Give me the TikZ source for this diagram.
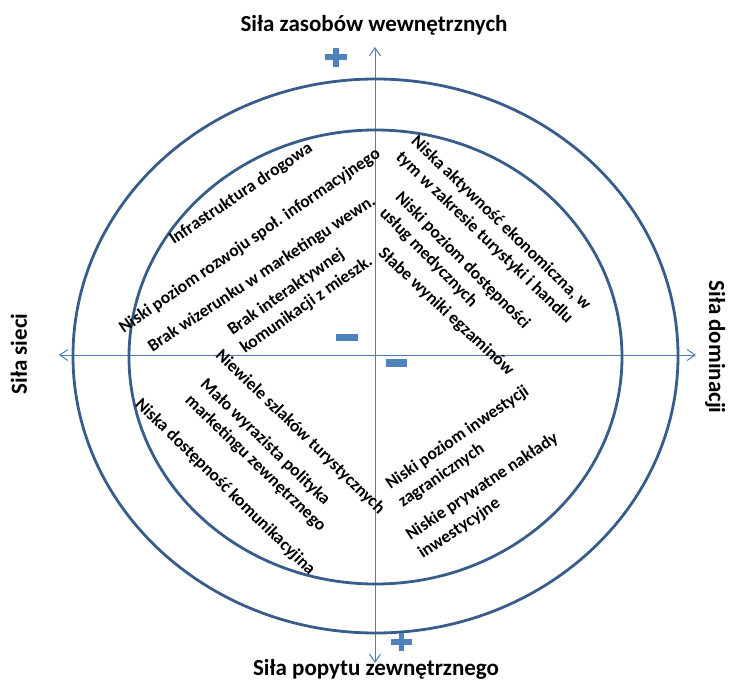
\documentclass[tikz,border=0pt]{standalone}
\usepackage{fontspec}
\setmainfont{Carlito}
\usetikzlibrary{arrows.meta}
\definecolor{ellc}{HTML}{385D8A}
\definecolor{axc}{HTML}{4A7EBB}
\definecolor{signc}{HTML}{4F81BD}
\begin{document}
\begin{tikzpicture}[x=1pt,y=-1pt,
  lbl/.style={font=\bfseries\fontsize{17.5}{22}\selectfont, inner sep=0pt, align=left, text=black},
  ttl/.style={font=\bfseries\fontsize{23}{26}\selectfont, inner sep=0pt, anchor=base, text=black},
  ell/.style={draw=ellc, line width=2.8pt},
  axis/.style={draw=axc, line width=1pt, {Straight Barb[length=8pt,width=11pt]}-{Straight Barb[length=8pt,width=11pt]}},
  sign/.style={fill=signc, draw=none}]
\useasboundingbox (0,0) rectangle (729,680);
% axes
\coordinate (top) at (375,47);
\coordinate (bot) at (375,663);
\coordinate (lft) at (59,355);
\coordinate (rgt) at (696,355);
\draw[axis] (top) -- (bot);
\draw[axis] (lft) -- (rgt);
% ellipses
\draw[ell] (375.5,356) ellipse [x radius=302.5, y radius=277];
\draw[ell] (375.5,357) ellipse [x radius=246.5, y radius=227];
% signs
\fill[sign] (325,54.2) rectangle (347,59.8);
\fill[sign] (333.2,47.5) rectangle (338.8,66.5);
\fill[sign] (391,639.2) rectangle (412,644.8);
\fill[sign] (398.7,633) rectangle (404.3,651);
\fill[sign] (336,334) rectangle (358,341);
\fill[sign] (386,359) rectangle (407,367);
% titles
\node[ttl] (tN) at (374,31) {Siła zasobów wewnętrznych};
\node[ttl] (tS) at (376,675) {Siła popytu zewnętrznego};
\node[ttl, rotate=90] (tW) at (27,354) {Siła sieci};
\node[ttl, rotate=-90] (tE) at (709,347) {Siła dominacji};
% upper-left
\node[lbl, rotate=34] (a1) at (241,194) {Infrastruktura drogowa};
\node[lbl, rotate=34.6] (a2) at (250,241) {Niski poziom rozwoju społ. informacyjnego};
\node[lbl, rotate=33.5] (a3) at (262,274) {Brak wizerunku w marketingu wewn.};
\node[lbl, rotate=35, anchor=west] (a4) at (236,341) {Brak interaktywnej\\komunikacji z mieszk.};
% upper-right
\node[lbl, rotate=-44, anchor=west] (b1) at (406,147) {Niska aktywność ekonomiczna, w\\tym w zakresie turystyki i handlu};
\node[lbl, rotate=-45.5, anchor=west] (b2) at (390,203) {Niski poziom dostępności\\usług medycznych};
\node[lbl, rotate=-43] (b3) at (446,312) {Słabe wyniki egzaminów};
% lower-left
\node[lbl, rotate=-44] (c1) at (300,432) {Niewiele szlaków turystycznych};
\node[lbl, rotate=-44, anchor=west] (c2) at (195,390) {Mało wyrazista polityka\\marketingu zewnętrznego};
\node[lbl, rotate=-44.3] (c3) at (225,487) {Niska dostępność komunikacyjina};
% lower-right
\node[lbl, rotate=34.6, anchor=west] (d1) at (394,495) {Niski poziom inwestycji\\zagranicznych};
\node[lbl, rotate=34, anchor=west] (d2) at (414,546) {Niskie prywatne nakłady\\inwestycyjne};
\end{tikzpicture}
\end{document}
